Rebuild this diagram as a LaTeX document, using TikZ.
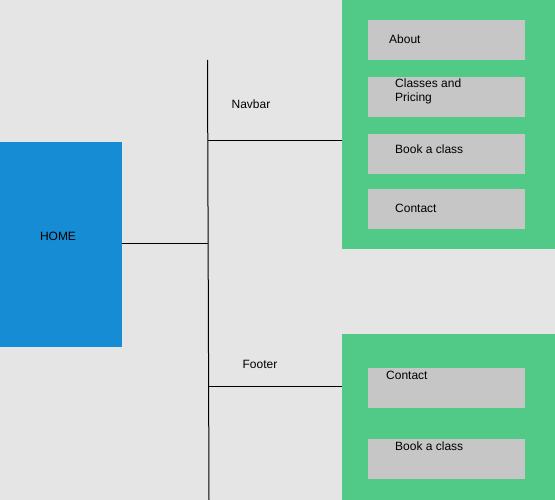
\documentclass[tikz,border=0pt]{standalone}
\usepackage{fontspec}
\setmainfont{Liberation Sans}
\usetikzlibrary{calc}
\definecolor{bgc}{RGB}{229,229,229}
\definecolor{homeblue}{RGB}{21,140,212}
\definecolor{panelgreen}{RGB}{82,202,135}
\definecolor{itemgray}{RGB}{198,198,198}
\begin{document}
\begin{tikzpicture}[x=1pt,y=-1pt,
  box/.style={draw=none,inner sep=0pt,outer sep=0pt},
  item/.style={box,fill=itemgray,minimum width=157pt,minimum height=40pt},
  lbl/.style={anchor=west,inner sep=0pt,font=\fontsize{12}{14}\selectfont,align=left},
  conn/.style={line width=1pt,black}]
\fill[bgc] (0,0) rectangle (555,500);
\useasboundingbox (0,0) rectangle (555,500);
% home
\node[box,fill=homeblue,minimum width=122pt,minimum height=205pt] (home) at (61,244.5) {};
\node[lbl,anchor=center] (homet) at (58,236) {HOME};
% panels
\node[box,fill=panelgreen,minimum width=213pt,minimum height=249pt] (nav) at (448.5,124.5) {};
\node[box,fill=panelgreen,minimum width=213pt,minimum height=166pt] (foot) at (448.5,417) {};
% navbar items
\node[item] (about) at (446.5,40) {};
\node[item] (classes) at (446.5,97) {};
\node[item] (book) at (446.5,154) {};
\node[item] (contact) at (446.5,209) {};
\node[lbl] (aboutt) at (389,39) {About};
\node[lbl] (classest) at (395,91) {Classes and\\Pricing};
\node[lbl] (bookt) at (395,149) {Book a class};
\node[lbl] (contactt) at (395,208) {Contact};
% footer items
\node[item] (fcontact) at (446.5,388) {};
\node[item] (fbook) at (446.5,459) {};
\node[lbl] (fcontactt) at (386,375) {Contact};
\node[lbl] (fbookt) at (395,446) {Book a class};
% labels
\node[lbl,anchor=center] (navlbl) at (251,104) {Navbar};
\node[lbl,anchor=center] (footlbl) at (260,364) {Footer};
% spine
\coordinate (vt) at (207.5,60);
\coordinate (vb) at (209,500);
\draw[conn] (vt) -- (vb);
\coordinate (jh) at ($(vt)!0.418!(vb)$);
\coordinate (jn) at ($(vt)!0.184!(vb)$);
\coordinate (jf) at ($(vt)!0.743!(vb)$);
\draw[conn] (home.east |- jh) -- (jh);
\draw[conn] (jn) -- (nav.west |- jn);
\draw[conn] (jf) -- (foot.west |- jf);
\end{tikzpicture}
\end{document}
